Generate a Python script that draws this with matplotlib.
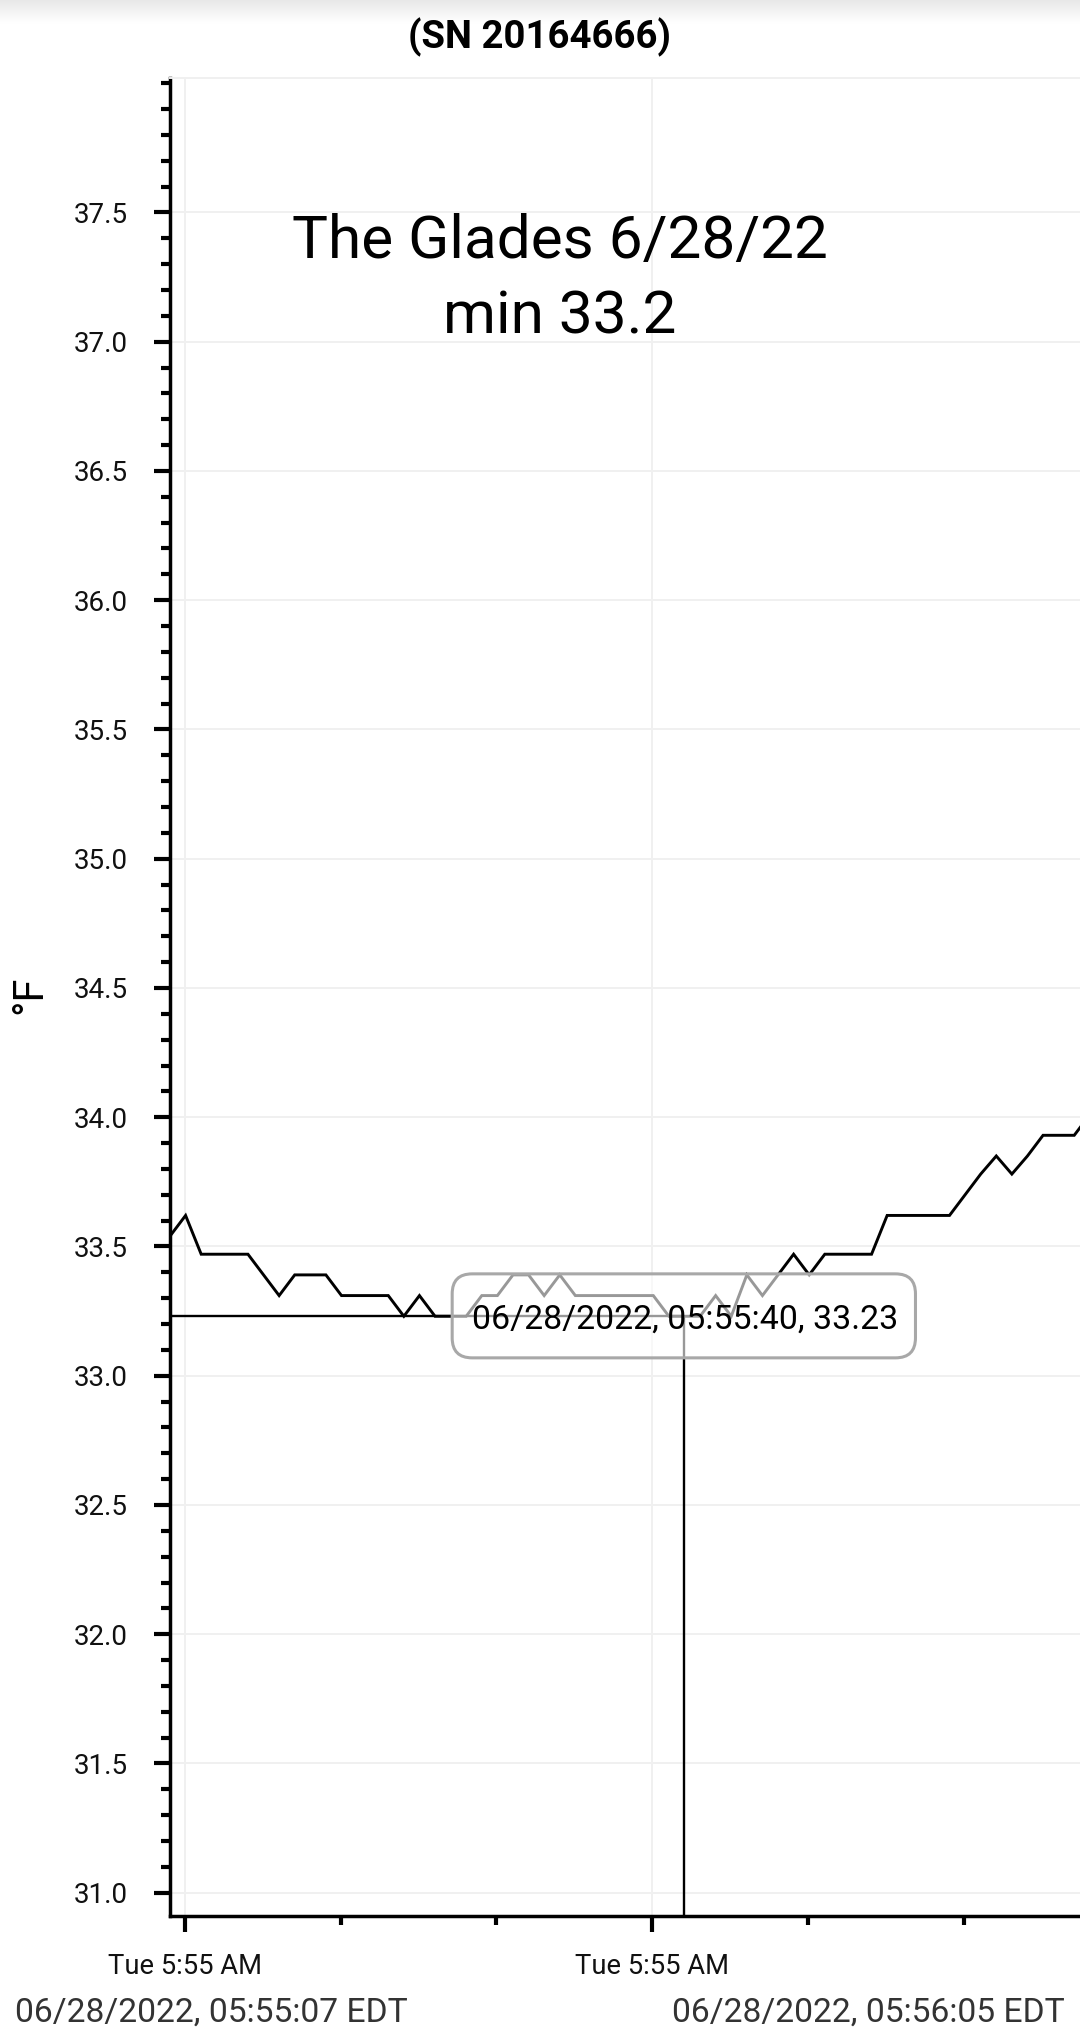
import numpy as np
import matplotlib
matplotlib.use('Agg')
import matplotlib.pyplot as plt
from matplotlib.patches import FancyBboxPatch
from matplotlib.transforms import IdentityTransform
from matplotlib.ticker import FixedLocator, MultipleLocator, FormatStrFormatter

plt.rcParams['font.family'] = ['Roboto', 'DejaVu Sans']

# ---- data ----
seconds = list(range(60))  # seconds after 06/28/2022 05:55:07 EDT
temps_f = [33.54, 33.62, 33.47, 33.47, 33.47, 33.47, 33.39, 33.31, 33.39, 33.39,
           33.39, 33.31, 33.31, 33.31, 33.31, 33.23, 33.31, 33.23, 33.23, 33.23,
           33.31, 33.31, 33.39, 33.39, 33.31, 33.39, 33.31, 33.31, 33.31, 33.31,
           33.31, 33.31, 33.23, 33.23, 33.23, 33.31, 33.23, 33.39, 33.31, 33.39,
           33.47, 33.39, 33.47, 33.47, 33.47, 33.47, 33.62, 33.62, 33.62, 33.62,
           33.62, 33.70, 33.78, 33.85, 33.78, 33.85, 33.93, 33.93, 33.93, 34.01]
x_major_seconds = [0.94, 30.94]
x_minor_seconds = [10.94, 20.94, 40.94, 50.94]
x_tick_labels = ['Tue 5:55 AM', 'Tue 5:55 AM']
cursor_index = 33
cursor_label = '06/28/2022, 05:55:40, 33.23'
title = '(SN 20164666)'
note_lines = ['The Glades 6/28/22', 'min 33.2']
range_start = '06/28/2022, 05:55:07 EDT'
range_end = '06/28/2022, 05:56:05 EDT'
y_unit = '°F'

W, H = 1080, 2044
fig = plt.figure(figsize=(W / 100, H / 100), dpi=100)
fig.patch.set_facecolor('white')

# top shadow gradient
gax = fig.add_axes([0, 1 - 24 / H, 1, 24 / H])
grad = np.linspace(0.91, 1.0, 60).reshape(-1, 1)
gax.imshow(grad, aspect='auto', cmap='gray', vmin=0, vmax=1, interpolation='bilinear')
gax.axis('off')

ax = fig.add_axes([170 / W, 1 - 1916 / H, (W - 170) / W, (1916 - 78) / H])
ax.set_xlim(0, 58.37)
ax.set_ylim(30.91, 38.02)

ax.plot(seconds, temps_f, color='black', lw=2.1, zorder=3, solid_joinstyle='miter')

cx, cy = seconds[cursor_index], temps_f[cursor_index]
ax.hlines(cy, ax.get_xlim()[0], cx, color='black', lw=1.7, zorder=3)
ax.vlines(cx, ax.get_ylim()[0], cy, color='black', lw=1.7, zorder=3)

# axes styling
ax.yaxis.set_major_locator(FixedLocator(np.arange(31.0, 37.51, 0.5)))
ax.yaxis.set_minor_locator(MultipleLocator(0.1))
ax.yaxis.set_major_formatter(FormatStrFormatter('%.1f'))
ax.xaxis.set_major_locator(FixedLocator(x_major_seconds))
ax.xaxis.set_minor_locator(FixedLocator(x_minor_seconds))
ax.set_xticklabels(x_tick_labels)

ax.tick_params(axis='both', which='both', direction='out', color='black', width=3)
ax.tick_params(axis='y', which='major', length=11.5, labelsize=20, pad=19, labelcolor='#111111')
ax.tick_params(axis='y', which='minor', length=6.5)
ax.tick_params(axis='x', which='major', length=11.5, labelsize=19.7, pad=15, labelcolor='#111111')
ax.tick_params(axis='x', which='minor', length=6.5)

for s in ['left', 'bottom']:
    ax.spines[s].set_linewidth(2.5)
    ax.spines[s].set_color('black')
ax.spines['right'].set_visible(False)
ax.spines['top'].set_color('#f0f0f0')
ax.spines['top'].set_linewidth(1.4)

ax.grid(True, which='major', color='#f0f0f0', lw=1.4)
ax.set_axisbelow(True)

# tooltip box
px, py = ax.transData.transform((cx, cy))
box = FancyBboxPatch((px - 232.3, py - 41.6), 463.3, 84.0,
                     boxstyle='round,pad=0,rounding_size=20',
                     transform=IdentityTransform(),
                     facecolor=(1, 1, 1, 0.6), edgecolor='#a8a8a8', lw=2.2, zorder=5)
fig.add_artist(box)
fig.text((px + 0.5) / W, (py - 12) / H, cursor_label, ha='center', va='baseline',
         fontsize=24.4, color='black', zorder=6)

# texts
fig.text(0.5, 1 - 48 / H, title, ha='center', va='baseline', fontsize=27.5,
         fontweight='bold', color='black')
fig.text(559.5 / W, 1 - 258 / H, note_lines[0], ha='center', va='baseline',
         fontsize=43.5, color='black')
fig.text(559.5 / W, 1 - 333 / H, note_lines[1], ha='center', va='baseline',
         fontsize=43.5, color='black')
fig.text(30 / W, 1 - 994.5 / H, y_unit, rotation=90, ha='center', va='center',
         fontsize=30, color='black')
fig.text(15 / W, 1 - 2022 / H, range_start, ha='left', va='baseline',
         fontsize=24.2, color='#333333')
fig.text(1065 / W, 1 - 2022 / H, range_end, ha='right', va='baseline',
         fontsize=24.2, color='#333333')

fig.savefig('out.png', dpi=100, facecolor='white')
